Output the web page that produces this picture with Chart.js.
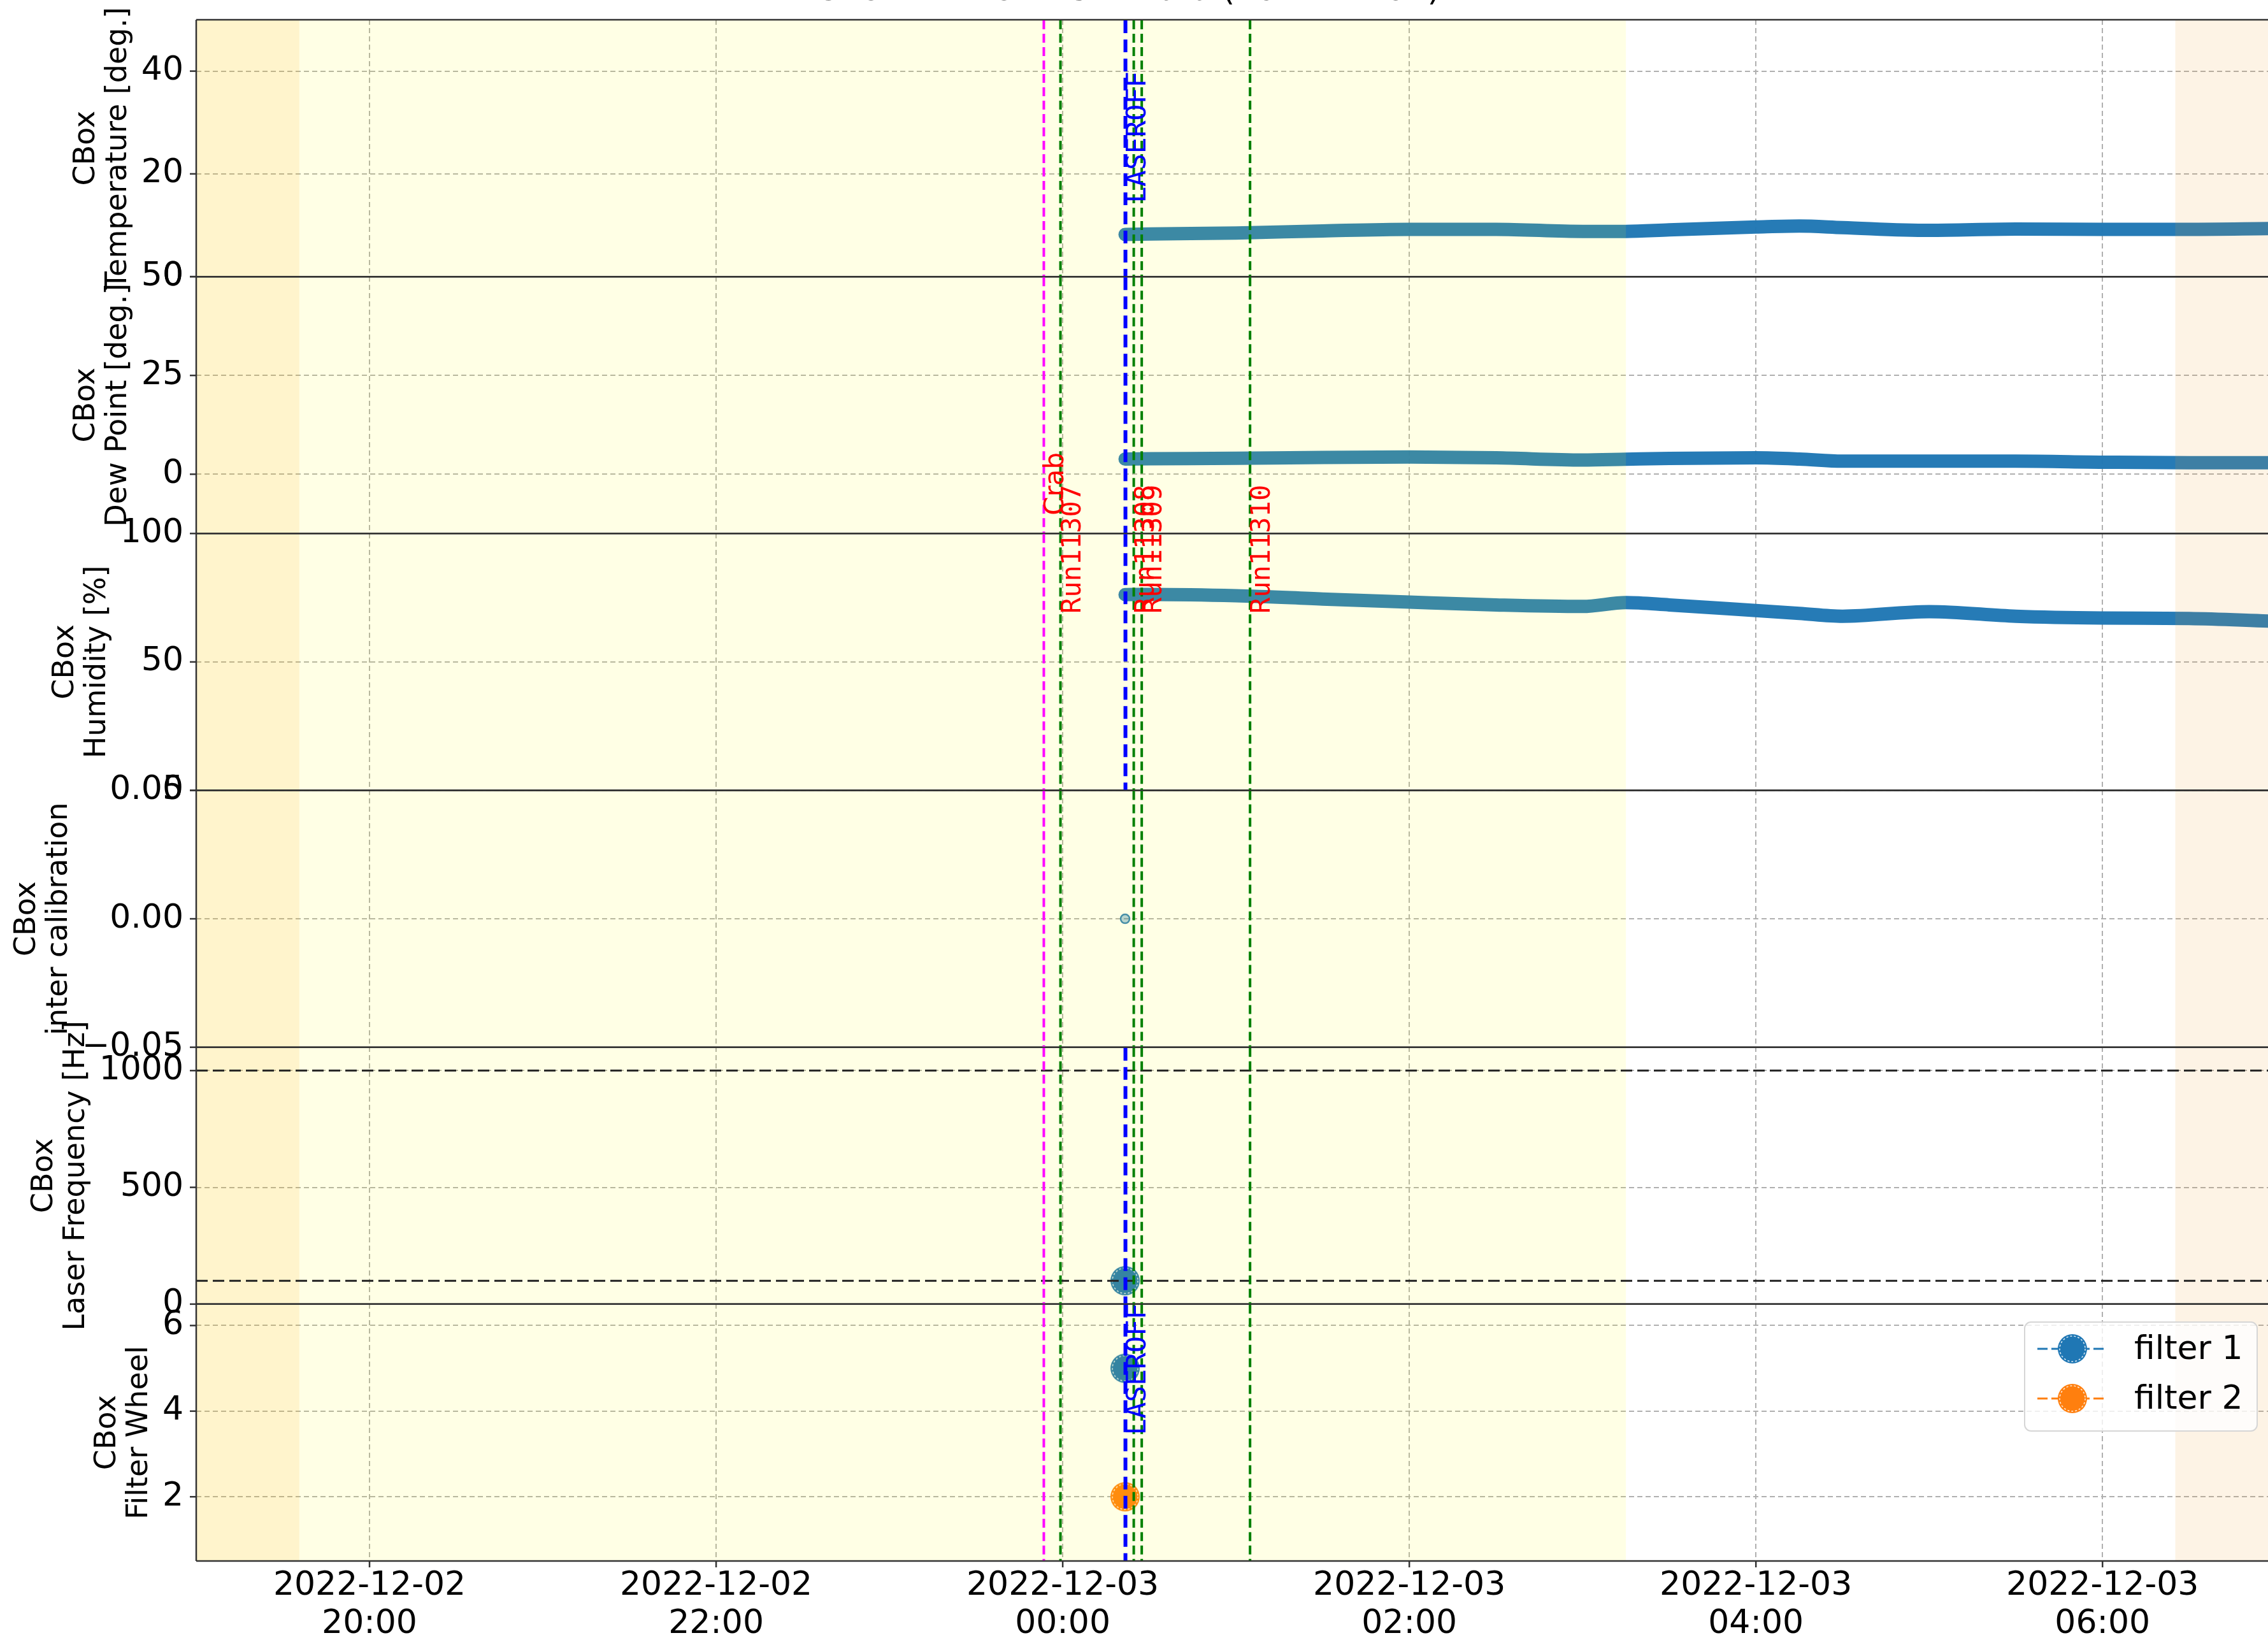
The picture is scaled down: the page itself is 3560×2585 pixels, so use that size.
<!DOCTYPE html>
<html>
<head>
<meta charset="utf-8">
<script src="https://cdn.jsdelivr.net/npm/chart.js@4.4.1/dist/chart.umd.min.js"></script>
<style>
html,body{margin:0;padding:0;background:#ffffff;overflow:hidden;}
canvas{display:block;}
</style>
</head>
<body>
<canvas id="c" width="3560" height="2585" style="width:3560px;height:2585px"></canvas>
<script>
// ---------------- data (time in hours since 2022-12-02 00:00) ----------------
const xTickHours = [20, 22, 24, 26, 28, 30];
const xTickDates = ['2022-12-02', '2022-12-02', '2022-12-03', '2022-12-03', '2022-12-03', '2022-12-03'];
const xTickTimes = ['20:00', '22:00', '00:00', '02:00', '04:00', '06:00'];

const envTimes    = [24.36, 24.5, 25.0, 25.5, 26.0, 26.5, 27.0, 27.25, 27.5, 28.0, 28.25, 28.5, 29.0, 29.5, 30.0, 30.5, 30.96];
const temperature = [8.2, 8.3, 8.5, 8.9, 9.2, 9.2, 8.8, 8.8, 9.1, 9.65, 9.85, 9.55, 9.0, 9.25, 9.2, 9.2, 9.35];
const dewPoint    = [3.85, 3.9, 4.05, 4.25, 4.35, 4.15, 3.6, 3.8, 4.0, 4.15, 3.85, 3.3, 3.3, 3.3, 3.05, 2.9, 2.9];
const humidity    = [76.2, 76.3, 75.8, 74.5, 73.3, 72.2, 71.6, 73.1, 72.2, 70.0, 68.9, 67.8, 69.6, 67.8, 67.1, 66.9, 65.9];

const calTimes = [24.36];     const calValues = [0.0];
const laserTimes = [24.36];   const laserFreq = [100];
const filter1Times = [24.36]; const filter1Pos = [5];
const filter2Times = [24.36]; const filter2Pos = [2];
const laserRefLevels = [1000, 100];

const eventTimes  = [23.891, 23.987, 24.362, 24.41, 24.456, 25.081];
const eventLabels = ['Crab', 'Run11307', 'LASEROFF', 'Run11308', 'Run11309', 'Run11310'];
const eventKinds  = ['source', 'run', 'laser', 'run', 'run', 'run'];

const twilightSpan = [19.0, 19.595];
const moonSpan     = [19.595, 27.25];
const dawnSpan     = [30.42, 31.0];

const panelIds    = ['yT', 'yD', 'yH', 'yC', 'yL', 'yF'];
const panelTitles = ['Temperature [deg.]', 'Dew Point [deg.]', 'Humidity [%]', 'inter calibration', 'Laser Frequency [Hz]', 'Filter Wheel'];
const panelMin    = [0, -15, 0, -0.05, 0, 0.5];
const panelMax    = [50, 50, 100, 0.05, 1100, 6.5];
const panelTicks  = [[0, 20, 40], [0, 25, 50], [0, 50, 100], [-0.05, 0, 0.05], [0, 500, 1000], [2, 4, 6]];
const legendLabels = ['filter 1', 'filter 2'];
const titleText = 'CBox Environment Data (2022-12-02)';

// ---------------- styles ----------------
const BLUE = '#1f77b4', ORANGE = '#ff7f0e';
const TICK_FONT = '52px "DejaVu Sans"';
const LABEL_FONT = '46px "DejaVu Sans"';
const eventStyle = {
  source: {color: '#ff00ff', width: 4, dash: [14, 7], text: '#ff0000', font: '42px "DejaVu Sans"', anchors: [['yD', -10.4]]},
  run:    {color: '#008000', width: 4, dash: [14, 7], text: '#ff0000', font: '42px "DejaVu Sans Mono"', anchors: [['yH', 68.8]]},
  laser:  {color: '#0000ff', width: 6, dash: [20, 10], text: '#0000ff', font: '43px "DejaVu Sans Mono"', anchors: [['yT', 14.3], ['yF', 3.44]], skip: ['yC']}
};

function makeMarker(color) {
  const c = document.createElement('canvas');
  c.width = 50; c.height = 50;
  const g = c.getContext('2d');
  g.beginPath(); g.arc(25, 25, 23, 0, 2 * Math.PI);
  g.fillStyle = color; g.fill();
  g.setLineDash([3, 3]); g.strokeStyle = 'rgba(255,255,255,0.85)'; g.lineWidth = 1.5;
  g.beginPath(); g.arc(25, 25, 20, 0, 2 * Math.PI); g.stroke();
  return c;
}
const blueMarker = makeMarker(BLUE), orangeMarker = makeMarker(ORANGE);

const pts = (ts, vs) => ts.map((t, i) => ({x: t, y: vs[i]}));
const band = (label, axis, ts, vs) => ({
  label, yAxisID: axis, data: pts(ts, vs),
  borderColor: 'rgba(31,119,180,0.97)', borderWidth: 21, pointRadius: 0,
  borderCapStyle: 'round', borderJoinStyle: 'round', cubicInterpolationMode: 'monotone', fill: false
});
const markerSet = (label, axis, ts, vs, color, img) => ({
  label, yAxisID: axis, data: pts(ts, vs), borderColor: color, backgroundColor: color,
  borderWidth: 3, borderDash: [14, 7], pointStyle: img, pointRadius: 23, showLine: false
});

const datasets = [
  band('temperature', 'yT', envTimes, temperature),
  band('dew point', 'yD', envTimes, dewPoint),
  band('humidity', 'yH', envTimes, humidity),
  {label: 'inter calibration', yAxisID: 'yC', data: pts(calTimes, calValues), showLine: false,
   pointRadius: 7, backgroundColor: 'rgba(31,119,180,0.35)', borderColor: 'rgba(31,119,180,0.9)', borderWidth: 2.5},
  markerSet('laser', 'yL', laserTimes, laserFreq, BLUE, blueMarker),
  markerSet(legendLabels[0], 'yF', filter1Times, filter1Pos, BLUE, blueMarker),
  markerSet(legendLabels[1], 'yF', filter2Times, filter2Pos, ORANGE, orangeMarker)
];

function fmtTick(id, v) {
  if (id === 'yC') return (v < 0 ? '\u2212' : '') + Math.abs(v).toFixed(2);
  return String(v);
}

const scales = {
  x: {
    type: 'linear', min: 19.0, max: 30.955,
    afterBuildTicks(s) { s.ticks = xTickHours.map(v => ({value: v})); },
    afterFit(s) { s.height = 135; s.paddingLeft = 0; s.paddingRight = 0; },
    ticks: {callback: (v, i) => [xTickDates[i], xTickTimes[i]], font: {family: 'DejaVu Sans', size: 52, lineHeight: 1.16},
            color: '#000', padding: 9, maxRotation: 0, minRotation: 0, autoSkip: false},
    grid: {color: '#b0b0b0', lineWidth: 2, drawTicks: false},
    border: {display: false, dash: [8, 5]}
  }
};
panelIds.forEach((id, i) => {
  scales[id] = {
    type: 'linear', position: 'left', stack: 'panels', stackWeight: 1, weight: panelIds.length - i,
    min: panelMin[i], max: panelMax[i],
    afterBuildTicks(s) { s.ticks = panelTicks[i].map(v => ({value: v})); },
    afterFit(s) { s.width = 308; s.paddingTop = 0; s.paddingBottom = 0; },
    ticks: {callback: v => fmtTick(id, v), font: {family: 'DejaVu Sans', size: 52}, color: '#000', padding: 20, autoSkip: false},
    grid: {color: '#b0b0b0', lineWidth: 2, drawTicks: false},
    border: {display: false, dash: [8, 5]}
  };
});

const overlay = {
  id: 'overlay',
  afterDatasetsDraw(chart) {
    const {ctx, chartArea: ca, scales: sc} = chart;
    const xs = sc.x;
    const X = t => xs.getPixelForValue(t);
    ctx.save();
    // background spans (translucent overlays, like axvspan)
    const span = (s, col) => {
      const a = Math.max(ca.left, X(s[0])), b = Math.min(ca.right, X(s[1]));
      ctx.fillStyle = col; ctx.fillRect(a, ca.top, b - a, ca.bottom - ca.top);
    };
    span(twilightSpan, 'rgba(255,200,0,0.2)');
    span(moonSpan, 'rgba(255,255,0,0.1)');
    span(dawnSpan, 'rgba(240,160,40,0.12)');

    // laser reference levels
    const yL = sc.yL;
    ctx.strokeStyle = '#222'; ctx.lineWidth = 3; ctx.setLineDash([18, 8]);
    laserRefLevels.forEach(v => {
      const y = yL.getPixelForValue(v);
      ctx.beginPath(); ctx.moveTo(ca.left, y); ctx.lineTo(ca.right, y); ctx.stroke();
    });

    // panel frames
    ctx.setLineDash([]); ctx.strokeStyle = '#333'; ctx.lineWidth = 2.5;
    panelIds.forEach(id => {
      const s = sc[id];
      [s.top, s.bottom].forEach(y => { ctx.beginPath(); ctx.moveTo(ca.left, y); ctx.lineTo(ca.right + 2, y); ctx.stroke(); });
    });
    ctx.beginPath(); ctx.moveTo(ca.left, ca.top); ctx.lineTo(ca.left, ca.bottom); ctx.stroke();

    // tick marks
    panelIds.forEach((id, i) => {
      const s = sc[id];
      panelTicks[i].forEach(v => {
        const y = s.getPixelForValue(v);
        ctx.beginPath(); ctx.moveTo(ca.left - 10, y); ctx.lineTo(ca.left, y); ctx.stroke();
      });
    });
    xTickHours.forEach(v => {
      const x = X(v);
      ctx.beginPath(); ctx.moveTo(x, ca.bottom); ctx.lineTo(x, ca.bottom + 10); ctx.stroke();
    });

    // event lines
    eventTimes.forEach((t, k) => {
      const st = eventStyle[eventKinds[k]];
      const x = X(t);
      ctx.strokeStyle = st.color; ctx.lineWidth = st.width; ctx.setLineDash(st.dash);
      panelIds.forEach(id => {
        if (st.skip && st.skip.includes(id)) return;
        const s = sc[id];
        ctx.beginPath(); ctx.moveTo(x, s.top + 1); ctx.lineTo(x, s.bottom - 1); ctx.stroke();
      });
    });
    ctx.setLineDash([]);
    // event labels
    eventTimes.forEach((t, k) => {
      const st = eventStyle[eventKinds[k]];
      const x = X(t);
      ctx.fillStyle = st.text; ctx.font = st.font; ctx.textAlign = 'left'; ctx.textBaseline = 'alphabetic';
      st.anchors.forEach(([id, v]) => {
        const y = sc[id].getPixelForValue(v);
        ctx.save(); ctx.translate(x + 31, y); ctx.rotate(-Math.PI / 2);
        ctx.fillText(eventLabels[k], 0, 0); ctx.restore();
      });
    });

    // axis titles
    panelIds.forEach((id, i) => {
      const s = sc[id];
      ctx.font = TICK_FONT;
      const maxW = Math.max(...panelTicks[i].map(v => ctx.measureText(fmtTick(id, v)).width));
      const cx = ca.left - 20 - maxW - 61;
      const cy = (s.top + s.bottom) / 2;
      ctx.font = LABEL_FONT; ctx.fillStyle = '#000'; ctx.textAlign = 'center'; ctx.textBaseline = 'middle';
      ctx.save(); ctx.translate(cx, cy); ctx.rotate(-Math.PI / 2);
      ctx.fillText('CBox', 0, -25);
      ctx.fillText(panelTitles[i], 0, 25);
      ctx.restore();
    });

    // legend
    const lx0 = 3178, ly0 = 2075, lx1 = 3543, ly1 = 2246, r = 10;
    ctx.beginPath();
    ctx.moveTo(lx0 + r, ly0); ctx.lineTo(lx1 - r, ly0); ctx.arcTo(lx1, ly0, lx1, ly0 + r, r);
    ctx.lineTo(lx1, ly1 - r); ctx.arcTo(lx1, ly1, lx1 - r, ly1, r);
    ctx.lineTo(lx0 + r, ly1); ctx.arcTo(lx0, ly1, lx0, ly1 - r, r);
    ctx.lineTo(lx0, ly0 + r); ctx.arcTo(lx0, ly0, lx0 + r, ly0, r); ctx.closePath();
    ctx.fillStyle = 'rgba(255,255,255,0.8)'; ctx.fill();
    ctx.strokeStyle = '#d6d6d6'; ctx.lineWidth = 2; ctx.stroke();
    const legendSets = chart.data.datasets.filter(d => legendLabels.includes(d.label));
    legendSets.forEach((d, k) => {
      const y = 2117 + k * 78;
      ctx.strokeStyle = d.borderColor; ctx.lineWidth = 3; ctx.setLineDash([16, 6]);
      ctx.beginPath(); ctx.moveTo(3198, y); ctx.lineTo(3307, y); ctx.stroke();
      ctx.setLineDash([]);
      ctx.drawImage(d.pointStyle, 3253 - d.pointStyle.width / 2, y - d.pointStyle.height / 2);
      ctx.fillStyle = '#000'; ctx.font = TICK_FONT; ctx.textAlign = 'left'; ctx.textBaseline = 'middle';
      ctx.fillText(d.label, 3350, y + 2);
    });

    // (mostly cropped) title
    ctx.fillStyle = '#000'; ctx.font = TICK_FONT; ctx.textAlign = 'center'; ctx.textBaseline = 'alphabetic';
    ctx.fillText(titleText, 1770, 0);
    ctx.restore();
  }
};

new Chart(document.getElementById('c').getContext('2d'), {
  type: 'line',
  data: {datasets},
  options: {
    responsive: false, animation: false, devicePixelRatio: 1,
    layout: {padding: {top: 31, left: 0, right: 0, bottom: 0}, autoPadding: false},
    plugins: {legend: {display: false}, tooltip: {enabled: false}, title: {display: false}},
    scales
  },
  plugins: [overlay]
});
</script>
</body>
</html>
